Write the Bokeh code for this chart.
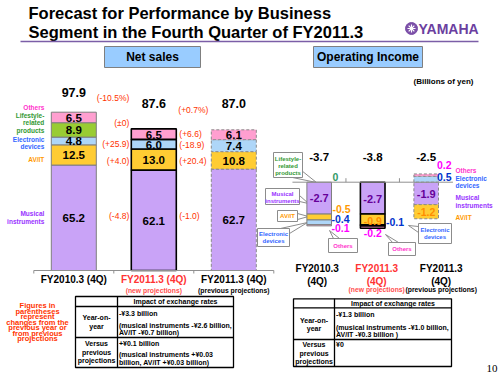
from bokeh.plotting import figure
from bokeh.models import Range1d, ColumnDataSource
from bokeh.embed import file_html
from bokeh.resources import INLINE
from bokeh.core.properties import value

FONT = "Liberation Sans"

# ---------------- data ----------------
segments = ["Musical instruments", "AV/IT", "Electronic devices", "Lifestyle-related products", "Others"]
seg_colors = ["#c9a3f7", "#ffcc33", "#aed6f8", "#99cc33", "#ff9fd0"]

ns_categories = ["FY2010.3 (4Q)", "FY2011.3 (4Q)", "FY2011.3 (4Q)"]
ns_subtitles = ["", "(new projections)", "(previous projections)"]
ns_fy2010 = [65.2, 12.5, 4.8, 8.9, 6.5]
ns_fy2011_new = [62.1, 13.0, 6.0, None, 6.5]
ns_fy2011_prev = [62.7, 10.8, 7.4, None, 6.1]
ns_totals = [97.9, 87.6, 87.0]
ns_change_yoy = ["(-4.8)", "(+4.0)", "(+25.9)", None, "(\u00b10)"]
ns_change_yoy_total = "(-10.5%)"
ns_change_prev = ["(-1.0)", "(+20.4)", "(-18.9)", None, "(+6.6)"]
ns_change_prev_total = "(+0.7%)"

oi_categories = ["FY2010.3", "FY2011.3", "FY2011.3"]
oi_fy2010 = [-2.7, -0.5, -0.4, 0.0, -0.1]
oi_fy2011_new = [-2.7, -0.9, -0.1, None, -0.2]
oi_fy2011_prev = [-1.9, -1.2, 0.5, None, 0.2]
oi_totals = [-3.7, -3.8, -2.5]

# ---------------- layout constants (pixels) ----------------
NS_X0, NS_DX, NS_Y0, NS_K = 73.3, 80.0, 270.0, 1.617
OI_X0, OI_DX, OI_Y0, OI_K = 318.7, 53.5, 181.7, 11.8
NS_W, OI_W = 0.5625, 0.46

p = figure(width=500, height=375, x_range=Range1d(0, 500), y_range=Range1d(375, 0),
           x_axis_type=None, y_axis_type=None, min_border=0, toolbar_location=None,
           output_backend="svg", outline_line_color=None)
p.background_fill_color = "white"
p.border_fill_color = "white"
p.extra_x_ranges = {
    "ns": Range1d(-NS_X0 / NS_DX, (500 - NS_X0) / NS_DX),
    "oi": Range1d(-OI_X0 / OI_DX, (500 - OI_X0) / OI_DX),
}
p.extra_y_ranges = {
    "ns": Range1d((NS_Y0 - 375) / NS_K, NS_Y0 / NS_K),
    "oi": Range1d((OI_Y0 - 375) / OI_K, OI_Y0 / OI_K),
}


def txt(x, y, s, size, color="#000000", bold=True, align="center", baseline="middle",
        font=FONT, xr="default", yr="default", dx=0, dy=0):
    p.text(x=[x], y=[y], text=[s], text_font=value(font), text_font_size=f"{size}px",
           text_color=color, text_font_style="bold" if bold else "normal",
           text_align=align, text_baseline=baseline, x_offset=dx, y_offset=dy,
           x_range_name=xr, y_range_name=yr)


def stack(vals):
    pos = neg = 0.0
    out = []
    for v in vals:
        if v is None:
            out.append(None)
            continue
        if v >= 0:
            out.append((pos, pos + v))
            pos += v
        else:
            out.append((neg, neg + v))
            neg += v
    return out


bar_styles = [dict(line_color="#7f7f7f", line_width=1, line_dash="solid"),
              dict(line_color="#000000", line_width=1.6, line_dash="solid"),
              dict(line_color="#8a8a8a", line_width=1, line_dash="3 2")]


def draw_bars(series_list, rn, width):
    stacks = []
    for i, vals in enumerate(series_list):
        st = stack(vals)
        stacks.append(st)
        xs, bs, ts, cs = [], [], [], []
        for k, bt in enumerate(st):
            if bt is None or bt[0] == bt[1]:
                continue
            xs.append(i); bs.append(bt[0]); ts.append(bt[1]); cs.append(seg_colors[k])
        src = ColumnDataSource(dict(x=xs, bottom=bs, top=ts, color=cs))
        p.vbar(x="x", bottom="bottom", top="top", width=width, fill_color="color",
               source=src, x_range_name=rn, y_range_name=rn, **bar_styles[i])
    return stacks


# ---------------- title & header ----------------
txt(28, 12, "Forecast for Performance by Business", 16.5, align="left")
txt(28, 31, "Segment in the Fourth Quarter of FY2011.3", 16.5, align="left")
p.segment(x0=[20], y0=[41], x1=[478], y1=[41], line_color="#7b5ea7", line_width=1.6)
p.scatter(x=[411], y=[28], size=12, marker="circle", fill_color="#7b4fa8", line_color="#7b4fa8")
p.scatter(x=[411], y=[28], size=8, marker="asterisk", line_color="white", line_width=1.2)
txt(418, 28.5, "YAMAHA", 14, color="#6b3fa0", align="left")

p.quad(left=[104], right=[200], top=[46], bottom=[67], fill_color="#99ccff", line_color="#7f7f7f")
txt(152, 56.5, "Net sales", 12)
p.quad(left=[313], right=[422], top=[46], bottom=[67], fill_color="#99ccff", line_color="#7f7f7f")
txt(367.5, 56.5, "Operating Income", 12)
txt(443, 81, "(Billions of yen)", 8)

# ---------------- net sales ----------------
ns_series = [ns_fy2010, ns_fy2011_new, ns_fy2011_prev]
ns_stacks = draw_bars(ns_series, "ns", NS_W)

# axis
p.segment(x0=[-0.5], y0=[0], x1=[len(ns_categories) - 0.5], y1=[0], line_color="#909090",
          line_width=1, x_range_name="ns", y_range_name="ns")
ticks = [i - 0.5 for i in range(len(ns_categories) + 1)]
p.segment(x0=ticks, y0=[0] * len(ticks), x1=ticks, y1=[-3 / NS_K] * len(ticks),
          line_color="#909090", x_range_name="ns", y_range_name="ns")

for i, vals in enumerate(ns_series):
    for k, v in enumerate(vals):
        if v is None:
            continue
        b, t = ns_stacks[i][k]
        txt(i, (b + t) / 2, f"{v:.1f}", 11.5, xr="ns", yr="ns", dy=0.5)
tot_dy = [-20, -25, -26]
for i, tv in enumerate(ns_totals):
    txt(i, tv, f"{tv:.1f}", 12.5, xr="ns", yr="ns", dy=tot_dy[i])

cat_colors = ["#000000", "#ff3333", "#000000"]
sub_colors = ["#000000", "#ff5050", "#000000"]
for i, c in enumerate(ns_categories):
    txt(i, 0, c, 10, color=cat_colors[i], xr="ns", yr="ns", dy=8.5)
    if ns_subtitles[i]:
        txt(i, 0, ns_subtitles[i], 6.8, color=sub_colors[i], xr="ns", yr="ns", dy=19.5)

# change labels
RED = "#ff3300"
yoy_dy = [-4, 1, 0, 0, -11.5]
for k, s in enumerate(ns_change_yoy):
    if s is None:
        continue
    b, t = ns_stacks[1][k]
    txt(1 - NS_W / 2, (b + t) / 2, s, 8.5, color=RED, bold=False, align="right",
        xr="ns", yr="ns", dx=-2, dy=yoy_dy[k])
txt(1 - NS_W / 2, ns_totals[1], ns_change_yoy_total, 8.5, color=RED, bold=False,
    align="right", xr="ns", yr="ns", dx=-2, dy=-31)
prev_dy = [-4.5, 1, 1, 0, 0]
for k, s in enumerate(ns_change_prev):
    if s is None:
        continue
    b, t = ns_stacks[1][k]
    txt(1 + NS_W / 2, (b + t) / 2, s, 8.5, color=RED, bold=False, align="left",
        xr="ns", yr="ns", dx=3, dy=prev_dy[k])
txt(1 + NS_W / 2, ns_totals[1], ns_change_prev_total, 8.5, color=RED, bold=False,
    align="left", xr="ns", yr="ns", dx=2, dy=-19)

# segment names beside first bar
name_lines = [["Musical", "instruments"], ["AV/IT"], ["Electronic", "devices"],
              ["Lifestyle-", "related", "products"], ["Others"]]
name_colors = ["#9933ff", "#ff9900", "#3366ff", "#339933", "#ff33cc"]
name_dy = [[-4, 3.7], [4.5], [-1.7, 5.6], [-14, -7, 1], [-10]]
for k, lines in enumerate(name_lines):
    b, t = ns_stacks[0][k]
    for j, ln in enumerate(lines):
        txt(-NS_W / 2, (b + t) / 2, ln, 6.5, color=name_colors[k], align="right",
            xr="ns", yr="ns", dx=-7, dy=name_dy[k][j])

# ---------------- operating income ----------------
oi_series = [oi_fy2010, oi_fy2011_new, oi_fy2011_prev]

# callouts (drawn first, behind labels)
callouts = [
    ((273, 152, 302, 177), [(292, 177), (301, 170)], (316, 182), ["Lifestyle-", "related", "products"], "#339933", [158, 165, 172]),
    ((265, 188, 299, 204), [(299, 195), (299, 201)], (308, 203), ["Musical", "instruments"], "#9933ff", [193.5, 200]),
    ((277, 210, 297, 221), [(297, 213), (297, 219)], (308, 216), ["AV/IT"], "#ff9900", [215.5]),
    ((257, 228, 289, 246), [(280, 228), (289, 233)], (307, 222), ["Electronic", "devices"], "#3366ff", [233.5, 240.5]),
    ((328, 238, 357, 252), [(333, 238), (339, 238)], (329, 230), ["Others"], "#ff33cc", [245]),
    ((388, 242, 415, 255), [(392, 242), (398, 242)], (385, 234), ["Others"], "#ff33cc", [248.5]),
    ((418, 223, 451, 243), [(418, 226), (418, 232)], (408, 225), ["Electronic", "devices"], "#3366ff", [229.5, 236.5]),
]
for (x0, y0, x1, y1), base, tip, lines, col, ys in callouts:
    p.patch(x=[base[0][0], tip[0], base[1][0]], y=[base[0][1], tip[1], base[1][1]],
            fill_color="white", line_color="#8c8c8c", line_width=1)
    p.quad(left=[x0], right=[x1], top=[y0], bottom=[y1], fill_color="white",
           line_color="#8c8c8c", line_width=1)
    for ln, yy in zip(lines, ys):
        txt((x0 + x1) / 2, yy, ln, 6, color=col)

oi_stacks = draw_bars(oi_series, "oi", OI_W)

p.segment(x0=[-0.5], y0=[0], x1=[len(oi_categories) - 0.5], y1=[0], line_color="#909090",
          line_width=1, x_range_name="oi", y_range_name="oi")
oticks = [i + 0.5 for i in range(len(oi_categories) - 1)]
p.segment(x0=oticks, y0=[0] * len(oticks), x1=oticks, y1=[4 / OI_K] * len(oticks),
          line_color="#909090", x_range_name="oi", y_range_name="oi")

for i, tv in enumerate(oi_totals):
    txt(i, 0, f"{tv:.1f}", 11.5, xr="oi", yr="oi", dy=-25)

# (bar, segment, mode, dx, dy, color, size)
oi_label_spec = [
    (0, 0, "in", 0, 0, "#660099", 11), (0, 1, "right", 1, -8, "#ff9900", 10.5),
    (0, 2, "right", 0, -3.5, "#0033cc", 10.5), (0, 3, "right", 1, -5, "#339966", 10.5),
    (0, 4, "right", 0, 2.5, "#ff00ff", 10.5),
    (1, 0, "in", 0, 0.5, "#660099", 11), (1, 1, "in", 0, 1.5, "#ff8c00", 10.5),
    (1, 2, "right", 1, -3, "#0033cc", 10.5), (1, 4, "in", 0, 6, "#ff00ff", 10.5),
    (2, 0, "in", 0, 0.5, "#660099", 11), (2, 1, "in", 0, 0, "#ff8c00", 10.5),
    (2, 2, "right", -1.5, -2, "#0033cc", 10.5), (2, 4, "right", -1.5, -10.6, "#ff00ff", 10.5),
]
for i, k, mode, dx, dy, col, sz in oi_label_spec:
    v = oi_series[i][k]
    b, t = oi_stacks[i][k]
    s = "0" if v == 0 else f"{v:.1f}"
    if mode == "in":
        txt(i, (b + t) / 2, s, sz, color=col, xr="oi", yr="oi", dx=dx, dy=dy)
    else:
        txt(i + OI_W / 2, (b + t) / 2, s, sz, color=col, align="left", xr="oi", yr="oi", dx=dx, dy=dy)

# segment names beside third bar
oi_names = [(4, ["Others"], [-4.6], "#ff33cc"), (2, ["Electronic", "devices"], [-1, 6.3], "#3366ff"),
            (0, ["Musical", "instruments"], [4.4, 12.1], "#9933ff"), (1, ["AV/IT"], [5.8], "#ff9900")]
for k, lines, dys, col in oi_names:
    b, t = oi_stacks[2][k]
    for ln, dy in zip(lines, dys):
        txt(2 + OI_W / 2, (b + t) / 2, ln, 6.5, color=col, align="left", xr="oi", yr="oi", dx=17, dy=dy)

oi_dx = [-2, 4, 15]
for i, c in enumerate(oi_categories):
    txt(i, 0, c, 10, color=cat_colors[i], xr="oi", yr="oi", dx=oi_dx[i], dy=86.6)
    txt(i, 0, "(4Q)", 10, color=cat_colors[i], xr="oi", yr="oi", dx=oi_dx[i], dy=99)
    if ns_subtitles[i]:
        txt(i, 0, ns_subtitles[i], 6.8, color=sub_colors[i], xr="oi", yr="oi", dx=oi_dx[i], dy=107.5)

# ---------------- note & tables ----------------
note = ["Figures in", "parentheses", "represent", "changes from the", "previous year or",
        "from previous", "projections"]
note_y = [305, 310.7, 316, 321.7, 327.3, 332.7, 338.3]
for ln, yy in zip(note, note_y):
    txt(37, yy, ln, 7.5, color=RED)


def table(x0, xs, x1, ys, header, r1c1, r1c2, r2c1, r2c2, r1c1_y, r1c2_y, r2c1_y, r2c2_y):
    p.quad(left=[x0], right=[x1], top=[ys[0]], bottom=[ys[-1]], fill_color=None,
           line_color="#000000", line_width=1.3)
    p.segment(x0=[xs], y0=[ys[0]], x1=[xs], y1=[ys[-1]], line_color="#000000", line_width=1.3)
    p.segment(x0=[x0, x0], y0=[ys[1], ys[2]], x1=[x1, x1], y1=[ys[1], ys[2]],
              line_color="#000000", line_width=1.3)
    txt((xs + x1) / 2, (ys[0] + ys[1]) / 2, header, 7)
    for ln, yy in zip(r1c1, r1c1_y):
        txt((x0 + xs) / 2, yy, ln, 7)
    for ln, yy in zip(r1c2, r1c2_y):
        txt(xs + 1.5, yy, ln, 7, align="left")
    for ln, yy in zip(r2c1, r2c1_y):
        txt((x0 + xs) / 2, yy, ln, 7)
    for ln, yy in zip(r2c2, r2c2_y):
        txt(xs + 1.5, yy, ln, 7, align="left")


table(75, 117, 233, [296, 306, 337, 367], "Impact of exchange rates",
      ["Year-on-", "year"], ["-\u00a53.3 billion", "(musical instruments -\u00a52.6 billion,", "AV/IT -\u00a50.7 billion)"],
      ["Versus", "previous", "projections"], ["+\u00a50.1 billion", "(musical instruments +\u00a50.03", "billion, AV/IT +\u00a50.03 billion)"],
      [316.7, 326], [312.7, 325, 331.5], [342.7, 351.5, 360], [342.7, 354, 361.5])

table(293, 334, 451, [298.3, 307.3, 339, 366], "Impact of exchange rates",
      ["Year-on-", "year"], ["-\u00a51.3 billion", "(musical instruments -\u00a51.0 billion,", "AV/IT -\u00a50.3 billion )"],
      ["Versus", "previous", "projections"], ["\u00a50"],
      [320, 328], [314.3, 326.7, 334], [344.3, 352.7, 360.7], [344.3])

txt(497, 368, "10", 11, bold=False, align="right", font="Liberation Serif")

open("out.html", "w").write(file_html(p, INLINE))
